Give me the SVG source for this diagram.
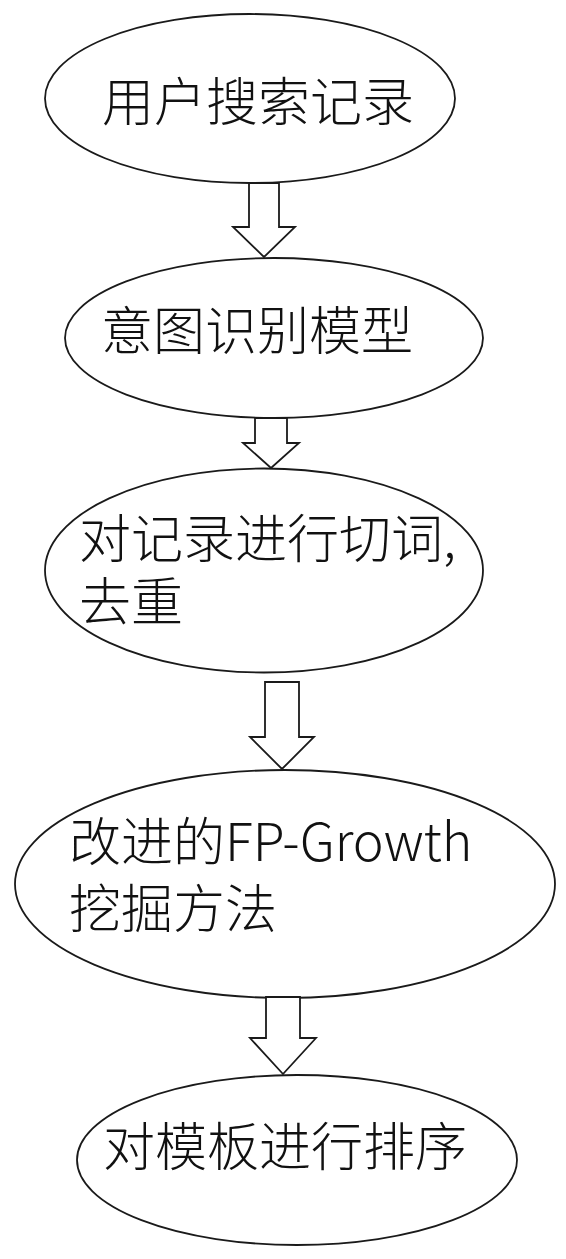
<svg xmlns="http://www.w3.org/2000/svg" width="566" height="1259" viewBox="0 0 566 1259">
<style>
.node{fill:#fff;stroke:#1a1a1a;stroke-width:1.8}
.arrow{fill:#fff;stroke:#1a1a1a;stroke-width:1.8;stroke-linejoin:miter}
.label{font-family:"Microsoft YaHei","Noto Sans CJK SC","Noto Sans",sans-serif;font-size:52px;font-weight:300;fill:#111}
</style>
<rect width="566" height="1259" fill="#fff"/>
<g id="n1"><ellipse class="node" cx="250" cy="98.5" rx="205" ry="84.5"/><text class="label" x="102" y="121">用户搜索记录</text></g>
<g id="n2"><ellipse class="node" cx="274" cy="338" rx="209" ry="80"/><text class="label" x="101" y="350">意图识别模型</text></g>
<g id="n3"><ellipse class="node" cx="264" cy="570.5" rx="219" ry="102"/><text class="label" x="79" y="558">对记录进行切词,</text><text class="label" x="79" y="621">去重</text></g>
<g id="n4"><ellipse class="node" cx="285" cy="884" rx="270" ry="114"/><text class="label" x="69" y="861">改进的FP-Growth</text><text class="label" x="69" y="928">挖掘方法</text></g>
<g id="n5"><ellipse class="node" cx="297" cy="1160" rx="220" ry="85"/><text class="label" x="103" y="1166">对模板进行排序</text></g>
<g id="connectors">
<polygon class="arrow" points="249,183 279,183 279,227 295,227 264,257 233,227 249,227"/>
<polygon class="arrow" points="255,418 287,418 287,443 299,443 271,468 243,443 255,443"/>
<polygon class="arrow" points="265,682 299,682 299,737 314,737 282,769 250,737 265,737"/>
<polygon class="arrow" points="266,997 300,997 300,1038 316,1038 283,1074 250,1038 266,1038"/>
</g>
</svg>
